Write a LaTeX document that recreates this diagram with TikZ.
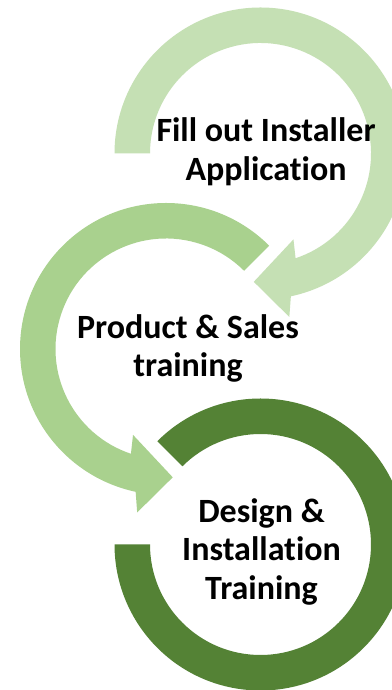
\documentclass[tikz,border=0pt]{standalone}
\usepackage{fontspec}
\setmainfont[Ligatures=NoCommon]{Carlito}
\usepackage{tikz}
\definecolor{greenlight}{HTML}{C5E0B4}
\definecolor{greenmid}{HTML}{A9D18E}
\definecolor{greendark}{HTML}{548235}

\begin{document}
\begin{tikzpicture}[x=1pt,y=1pt,
    steplabel/.style={font=\bfseries\fontsize{34}{38.5}\selectfont,align=center,inner sep=0pt}]
              \fill[white] (0,0) rectangle (391,690);
              \useasboundingbox (0,0) rectangle (391,690);

              \begin{scope}[shift={(260.5,536.5)}]
              \fill[color=greenlight] (180:146) arc[start angle=180,end angle=-78,radius=146]
                   -- (-80:166) -- (-93:128.5) -- (-69:92) -- (-71.5:110.5)
                   arc[start angle=-71.5,end angle=180,radius=110.5] -- cycle;
              \end{scope}

              \begin{scope}[shift={(166,341)}]
              \fill[color=greenmid] (45:146) arc[start angle=45,end angle=258,radius=146]
                   -- (260:166) -- (273:128.5) -- (249:92) -- (251.5:110.5)
                   arc[start angle=251.5,end angle=45,radius=110.5] -- cycle;
              \end{scope}

              \begin{scope}[shift={(260.5,145.5)}]
              \fill[color=greendark] (135:146) arc[start angle=135,end angle=-180,radius=146]
                   -- (180:110.5) arc[start angle=-180,end angle=135,radius=110.5] -- cycle;
              \end{scope}

              \node[steplabel] (fill) at (266,538) {Fill out Installer\\Application};
              \node[steplabel] (product) at (188,341.5) {Product \& Sales\\training};
              \node[steplabel] (design) at (261.5,138.5) {Design \&\\Installation\\Training};

             \end{tikzpicture}
\end{document}
